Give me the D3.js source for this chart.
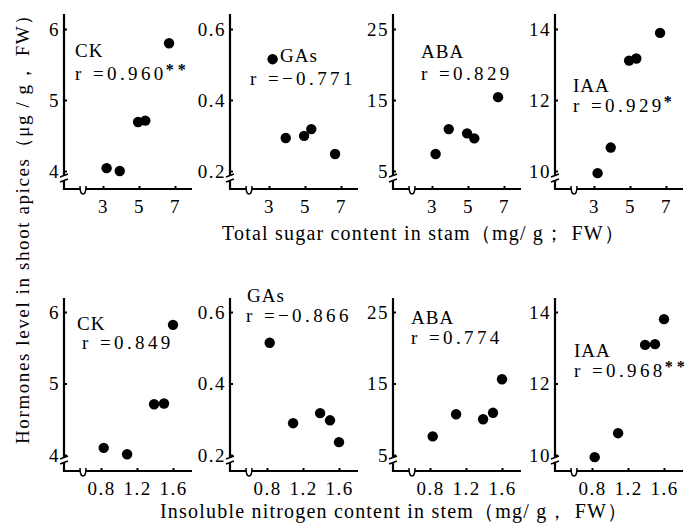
<!DOCTYPE html>
<html lang="en">
<head>
  <meta charset="UTF-8">
  <title>Hormones vs sugar and nitrogen</title>
  <style>
    body { margin: 0; background: #fff; }
    text { font-family: "Liberation Serif", "Times New Roman", serif; fill: #000; }
  </style>
</head>
<body>
  <div id="chart"></div>
  <script src="https://d3js.org/d3.v7.min.js"></script>
  <script>

    // x values (same five samples in every panel of a row)
    const sugarX = [3.2, 3.93, 4.95, 5.35, 6.67];
    const nitrogenX = [0.83, 1.09, 1.39, 1.5, 1.6];
    const sugarTicks = [3, 5, 7];
    const nitrogenTicks = [0.8, 1.2, 1.6];

    // hormone levels
    const hormones = ["CK", "GAs", "ABA", "IAA"];
    const ckSugar = [4.04, 4.0, 4.69, 4.71, 5.8];
    const gasSugar = [0.515, 0.293, 0.299, 0.318, 0.248];
    const abaSugar = [7.4, 10.9, 10.3, 9.6, 15.4];
    const iaaSugar = [9.94, 10.66, 13.11, 13.17, 13.89];
    const ckNitrogen = [4.1, 4.01, 4.71, 4.72, 5.82];
    const gasNitrogen = [0.514, 0.289, 0.317, 0.297, 0.236];
    const abaNitrogen = [7.6, 10.7, 10.0, 10.9, 15.6];
    const iaaNitrogen = [9.94, 10.61, 13.08, 13.1, 13.8];

    const ckTicks = [4, 5, 6];
    const gasTicks = [0.2, 0.4, 0.6];
    const abaTicks = [5, 15, 25];
    const iaaTicks = [10, 12, 14];

    const rSugar = ["0.960", "\u22120.771", "0.829", "0.929"];
    const starsSugar = ["**", "", "", "*"];
    const rNitrogen = ["0.849", "\u22120.866", "0.774", "0.968"];
    const starsNitrogen = ["", "", "", "**"];

    const width = 693, height = 528;
    const panelX = [64, 230, 393, 555];
    const axisLen = 128;

    const rows = [
      {
        xs: sugarX, xTicks: sugarTicks, xRange: [39, 111],
        ys: [ckSugar, gasSugar, abaSugar, iaaSugar],
        r: rSugar, stars: starsSugar,
        top: 14, axisY: 189, tickLo: 171, tickHi: 29,
        // label positions (name x/y, r x/y) relative to panel axis
        labels: [[11, 57, 11, 80], [50, 62, 20, 85], [28, 58, 28, 80], [18, 92, 18, 112]]
      },
      {
        xs: nitrogenX, xTicks: nitrogenTicks, xRange: [37, 109],
        ys: [ckNitrogen, gasNitrogen, abaNitrogen, iaaNitrogen],
        r: rNitrogen, stars: starsNitrogen,
        top: 298, axisY: 471, tickLo: 455, tickHi: 312,
        labels: [[13, 330, 18, 349], [17, 302, 16, 322], [18, 324, 18, 344], [19, 357, 19, 377]]
      }
    ];
    const yTicks = [ckTicks, gasTicks, abaTicks, iaaTicks];

    const svg = d3.select("#chart")
      .append("svg")
      .attr("width", width)
      .attr("height", height)
      .attr("viewBox", [0, 0, width, height]);

    rows.forEach(row => {
      const x = d3.scaleLinear([row.xTicks[0], row.xTicks[2]], row.xRange);

      hormones.forEach((h, i) => {
        const ticks = yTicks[i];
        const y = d3.scaleLinear([ticks[0], ticks[2]], [row.tickLo, row.tickHi]);
        const g = svg.append("g").attr("transform", `translate(${panelX[i]},0)`);

        // axis lines
        g.append("path")
          .attr("d", `M0,${row.top}V${row.axisY}H${axisLen}`)
          .attr("fill", "none")
          .attr("stroke", "#000")
          .attr("stroke-width", 2.2);

        g.append("g")
          .call(d3.axisLeft(y).tickValues(ticks).tickFormat(d => String(d)).tickSize(-3).tickPadding(4))
          .call(a => a.select(".domain").remove())
          .call(a => a.selectAll("line").attr("stroke-width", 2))
          .call(a => a.selectAll("text").attr("font-size", 19).attr("letter-spacing", 1.5)
            .attr("font-family", "Liberation Serif"));

        g.append("g")
          .attr("transform", `translate(0,${row.axisY})`)
          .call(d3.axisBottom(x).tickValues(row.xTicks).tickFormat(d => String(d)).tickSize(-3).tickPadding(11))
          .call(a => a.select(".domain").remove())
          .call(a => a.selectAll("line").attr("stroke-width", 2))
          .call(a => a.selectAll("text").attr("font-size", 19).attr("letter-spacing", 1.5)
            .attr("font-family", "Liberation Serif"));

        // axis breaks
        g.append("rect")
          .attr("x", -3).attr("y", row.axisY - 13)
          .attr("width", 6).attr("height", 5)
          .attr("fill", "#fff");
        g.append("path")
          .attr("d", `M-4,${row.axisY - 12}L4,${row.axisY - 15}M-4,${row.axisY - 7}L4,${row.axisY - 10}`)
          .attr("stroke", "#000").attr("stroke-width", 1.6).attr("fill", "none");
        g.append("path")
          .attr("d", `M16,${row.axisY - 3}Q16,${row.axisY + 5} 19,${row.axisY + 5}Q22,${row.axisY + 5} 22,${row.axisY - 3}`)
          .attr("stroke", "#000").attr("stroke-width", 1.5).attr("fill", "#fff");

        // points
        g.append("g")
          .selectAll("circle")
          .data(row.ys[i].map((v, k) => [row.xs[k], v]))
          .join("circle")
          .attr("cx", d => x(d[0]))
          .attr("cy", d => y(d[1]))
          .attr("r", 5.2)
          .attr("fill", "#000");

        // labels
        const L = row.labels[i];
        g.append("text")
          .attr("x", L[0]).attr("y", L[1])
          .attr("font-size", 19)
          .attr("letter-spacing", 1)
          .text(h);
        const t = g.append("text")
          .attr("x", L[2]).attr("y", L[3])
          .attr("font-size", 19)
          .attr("letter-spacing", 3.4)
          .text("r =" + row.r[i]);
        if (row.stars[i]) {
          const w = t.node().getComputedTextLength();
          g.append("text")
            .attr("x", L[2] + w - 1).attr("y", L[3] - 5)
            .attr("font-family", "DejaVu Sans")
            .attr("font-weight", "bold")
            .attr("font-size", 16)
            .attr("letter-spacing", 4)
            .style("fill", "#000")
            .text(row.stars[i]);
        }
      });
    });

    // axis titles
    svg.append("text")
      .attr("transform", "translate(29,224) rotate(-90)")
      .attr("text-anchor", "middle")
      .attr("font-size", 19)
      .attr("letter-spacing", 1.6)
      .text("Hormones level in shoot apices\uFF08\u03BCg / g\uFF0C FW\uFF09");

    svg.append("text")
      .attr("x", 222).attr("y", 240)
      .attr("font-size", 20)
      .attr("letter-spacing", 1.2)
      .text("Total sugar content in stam\uFF08mg/ g\uFF1B FW\uFF09");

    svg.append("text")
      .attr("x", 160).attr("y", 518)
      .attr("font-size", 20)
      .attr("letter-spacing", 1.2)
      .text("Insoluble nitrogen content in stem\uFF08mg/ g\uFF0C FW\uFF09");

  </script>
</body>
</html>
